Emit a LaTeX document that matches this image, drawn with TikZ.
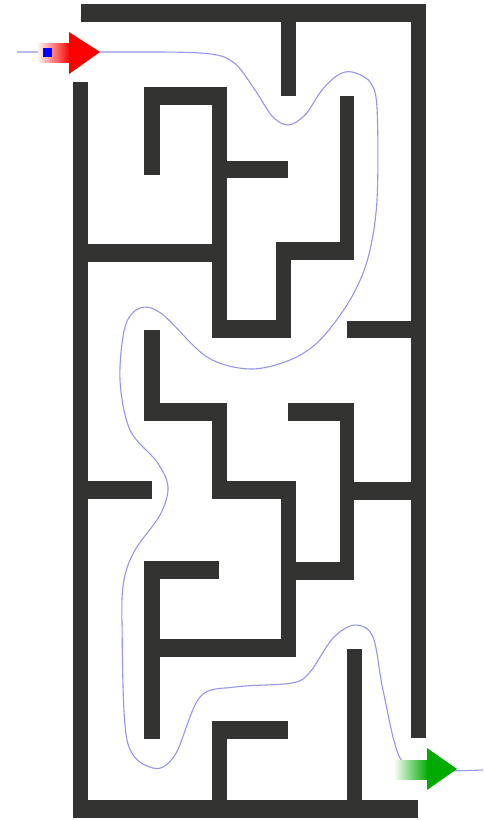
\documentclass[tikz,border=0pt]{standalone}
\usetikzlibrary{shadings}
\definecolor{wallc}{RGB}{51,51,49}
\definecolor{pathc}{RGB}{150,150,235}
\definecolor{arrred}{RGB}{250,0,0}
\definecolor{arrgreen}{RGB}{0,170,0}
\tikzset{wall/.style={fill=wallc,draw=none}}
\begin{document}
\begin{tikzpicture}[x=0.5pt,y=-0.5pt]
\useasboundingbox (0,0) rectangle (485,820);
\fill[white] (0,0) rectangle (485,820);
% walls
\foreach \a/\b/\c/\d in {81/4/426/22, 411/4/426/738, 281/22/296/96, 73/82/88/818, 73/800/418/818,
 144/87/160/175, 144/87/227/105, 212/87/227/338, 227/161/288/178, 88/244/212/262,
 340/96/354/260, 276/242/354/260, 276/242/291/338, 212/320/291/338, 347/321/411/338,
 144/330/160/421, 144/403/227/421, 212/403/227/499, 212/481/296/499, 281/481/296/657,
 160/639/296/657, 288/403/354/421, 340/403/354/580, 354/482/411/500, 296/562/354/580,
 88/481/152/499, 144/561/160/739, 144/561/219/579, 212/721/227/800, 212/721/288/739,
 347/649/362/800}
 {\fill[wall] (\a,\b) rectangle (\c,\d);}
% solution path
\draw[pathc, line width=0.55pt] plot[smooth, tension=0.55] coordinates {
 (17,52) (100,52) (200,53) (233,62) (255,90) (272,116) (288,125) (305,115) (322,90)
 (338,75) (352,72) (370,82) (377,108) (377,200) (368,258) (350,300) (320,340) (290,360) (250,369)
 (207,357) (162,314) (140,308) (125,327) (120,380) (130,430) (157,462) (168,487)
 (160,515) (135,550) (124,580) (122,623) (127,740) (153,768) (175,755) (200,697)
 (235,687) (292,683) (310,672) (333,638) (355,625) (373,637) (383,690) (400,758) (427,770) (483,770)};
% start arrow
\shade[left color=arrred!5, right color=arrred] (38,43) rectangle (70,62);
\fill[arrred] (69,32) -- (100,52) -- (69,74) -- cycle;
\fill[blue] (43,48) rectangle (52,57);
% end arrow
\shade[left color=arrgreen!5, right color=arrgreen] (395,760) rectangle (428,779);
\fill[arrgreen] (427,748) -- (457,769) -- (427,790) -- cycle;
\end{tikzpicture}
\end{document}
